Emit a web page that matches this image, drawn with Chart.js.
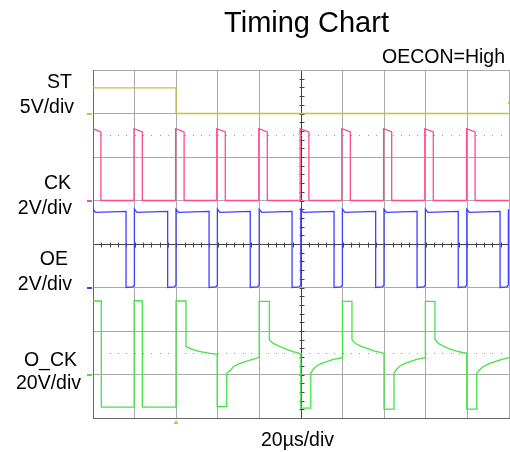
<!DOCTYPE html>
<html>
<head>
<meta charset="utf-8">
<script src="https://cdn.jsdelivr.net/npm/chart.js@4/dist/chart.umd.min.js"></script>
<style>
  html, body { margin: 0; padding: 0; background: #fff; }
</style>
</head>
<body>
<canvas id="timing" width="510" height="452"></canvas>
<script>
// ST: one step down at the trigger point
const stTime = [0, 39.9, 39.9, 200];
const stVolts = [2.95, 2.95, 0, 0];

// CK: short positive pulses every 20us (edges in us)
const ckRise = [0, 19.7, 39.7, 59.5, 79.7, 99.6, 119.6, 139.7, 159.5, 179.6];
const ckFall = [3.8, 23.7, 43.8, 63.6, 83.8, 103.8, 123.7, 143.6, 163.6, 183.7];
const ckTop = [3.3, 3.15]; // level at rise, level at fall

// OE: short low pulses right before each CK edge
const oeFall = [15.9, 35.9, 55.8, 75.6, 95.7, 115.9, 135.9, 155.8, 175.6, 195.7];
const oeRise = [19.9, 39.9, 59.8, 79.9, 99.9, 119.9, 139.9, 159.8, 179.7, 199.7];
const oeTop = [3.6, 3.45, 3.5]; // at rise, small dip, flat part

// O_CK output, read point by point
const oCkTime = [
  0, 4.0, 4.0, 19.8, 19.8, 23.7, 23.7, 39.9,
  39.9, 44.7, 44.7, 46.6, 49.9, 53.0, 56.3, 59.7,
  59.7, 64.3, 64.3, 66.3, 67.5, 70.7, 73.9, 77.1, 79.9,
  79.9, 84.8, 84.8, 86.7, 89.9, 93.1, 96.3, 99.9,
  99.9, 104.7, 104.7, 105.9, 107.5, 109.9, 112.4, 115.5, 119.9,
  119.9, 124.5, 124.5, 125.3, 126.9, 129.3, 131.7, 134.9, 138.1, 139.9,
  139.9, 144.7, 144.7, 145.2, 146.0, 147.6, 150.0, 152.4, 155.6, 159.8,
  159.8, 164.4, 164.4, 166.0, 168.4, 171.6, 174.9, 178.1, 179.7,
  179.7, 184.5, 184.5, 185.9, 187.5, 190.7, 193.9, 197.1, 200
];
const oCkVolts = [
  33.8, 33.8, -15.0, -15.0, 34.0, 33.8, -15.0, -15.0,
  33.8, 33.8, 12.8, 12.0, 10.9, 10.3, 9.7, 9.3,
  -14.8, -14.8, 0.6, 2.1, 3.6, 5.1, 6.2, 7.1, 7.9,
  33.6, 33.6, 15.9, 14.3, 12.8, 11.6, 10.5, 9.5,
  -15.5, -15.5, 0.6, 2.4, 3.9, 5.1, 5.9, 7.0, 7.7,
  33.6, 33.6, 16.2, 15.1, 13.9, 12.8, 12.0, 10.9, 10.2, 9.7,
  -15.9, -15.9, 0.6, 1.3, 2.4, 3.9, 5.1, 5.9, 7.0, 7.7,
  33.6, 33.6, 16.2, 14.3, 13.1, 11.7, 10.8, 10.0, 9.7,
  -15.9, -15.9, 0.6, 2.1, 3.6, 5.1, 6.2, 7.1, 7.8
];

const channelNames = ['ST', 'CK', 'OE', 'O_CK'];
const voltsPerDiv = [5, 2, 2, 20];
const groundDiv = [7, 5, 3, 1];
const traceColors = ['#c8c238', '#ff4a8e', '#3f3fff', '#44e444'];

function ckVolts() {
  const t = [], v = [];
  ckRise.forEach((r, i) => {
    if (i > 0) { t.push(r); v.push(0); }
    t.push(r, ckFall[i], ckFall[i]);
    v.push(ckTop[0], ckTop[1], 0);
  });
  t.push(200); v.push(0);
  return [t, v];
}

function oeVolts() {
  const t = [0, 1.2], v = [oeTop[0], oeTop[1]];
  oeFall.forEach((f, i) => {
    t.push(f, f, oeRise[i] - 0.8, oeRise[i], oeRise[i]);
    v.push(oeTop[2], 0, 0.03, 0.12, oeTop[0]);
    if (oeRise[i] + 1.2 < 200) { t.push(oeRise[i] + 1.2); v.push(oeTop[1]); }
  });
  return [t, v];
}

const [ckT, ckV] = ckVolts();
const [oeT, oeV] = oeVolts();
const traces = [[stTime, stVolts], [ckT, ckV], [oeT, oeV], [oCkTime, oCkVolts]];

const datasets = traces.map(([t, v], ch) => ({
  label: channelNames[ch],
  data: t.map((x, i) => ({ x: x, y: groundDiv[ch] + v[i] / voltsPerDiv[ch] })),
  borderColor: traceColors[ch],
  borderWidth: 1.3,
  pointRadius: 0,
  tension: 0,
  fill: false
}));

const FONT = '"Liberation Sans", Arial, sans-serif';

const scopeDecor = {
  id: 'scopeDecor',
  beforeDatasetsDraw(chart) {
    const { ctx, chartArea: a, scales: { x, y } } = chart;
    ctx.save();
    // dotted half-division lines
    ctx.fillStyle = '#999';
    [6.5, 1.5].forEach(d => {
      const py = Math.round(y.getPixelForValue(d));
      for (let t = 4; t < 200; t += 4) {
        ctx.fillRect(Math.round(x.getPixelForValue(t)), py, 1, 1);
      }
    });
    // small ticks on the centre cross
    const cx = Math.round(x.getPixelForValue(100)) + 0.5;
    const cy = Math.round(y.getPixelForValue(4)) + 0.5;
    ctx.strokeStyle = '#444';
    ctx.lineWidth = 1;
    ctx.beginPath();
    for (let k = 1; k < 40; k++) {
      const py = Math.round(y.getPixelForValue(k / 5)) + 0.5;
      ctx.moveTo(cx - 2, py); ctx.lineTo(cx + 3, py);
    }
    for (let k = 1; k < 50; k++) {
      const px = Math.round(x.getPixelForValue(k * 4)) + 0.5;
      ctx.moveTo(px, cy - 2); ctx.lineTo(px, cy + 3);
    }
    ctx.stroke();
    ctx.restore();
  },
  afterDraw(chart) {
    const { ctx, chartArea: a, scales: { x, y } } = chart;
    ctx.save();
    // ground markers at the left edge
    groundDiv.forEach((g, ch) => {
      const py = Math.round(y.getPixelForValue(g));
      ctx.fillStyle = traceColors[ch];
      ctx.fillRect(a.left - 6, py - 1, 5, 2);
    });
    // trigger level and trigger position
    ctx.fillStyle = traceColors[0];
    ctx.fillRect(a.right - 1, Math.round(y.getPixelForValue(7.24)) - 1, 2, 2);
    const tx = x.getPixelForValue(stTime[1]);
    ctx.beginPath();
    ctx.moveTo(tx, a.bottom + 2);
    ctx.lineTo(tx + 2.5, a.bottom + 6);
    ctx.lineTo(tx - 2.5, a.bottom + 6);
    ctx.closePath();
    ctx.fill();

    ctx.fillStyle = '#000';
    ctx.textBaseline = 'alphabetic';
    ctx.font = '29px ' + FONT;
    ctx.textAlign = 'center';
    ctx.fillText('Timing Chart', 306.5, 32);
    ctx.font = '19.5px ' + FONT;
    ctx.fillText('20\u00b5s/div', 297.5, 445.5);
    ctx.textAlign = 'right';
    ctx.fillText('OECON=High', 505, 63);

    const nameRight = [72, 71, 68, 77];
    const nameBase = [88, 189, 265, 366];
    const scaleRight = [74, 72, 72, 81];
    const scaleBase = [113, 214, 290, 389];
    channelNames.forEach((n, ch) => {
      ctx.fillText(n, nameRight[ch], nameBase[ch]);
      ctx.fillText(voltsPerDiv[ch] + 'V/div', scaleRight[ch], scaleBase[ch]);
    });
    ctx.restore();
  }
};

new Chart(document.getElementById('timing').getContext('2d'), {
  type: 'line',
  data: { datasets: datasets },
  options: {
    responsive: false,
    animation: false,
    events: [],
    layout: { padding: { left: 93, top: 70, right: 1, bottom: 34 } },
    plugins: { legend: { display: false }, tooltip: { enabled: false } },
    scales: {
      x: {
        type: 'linear',
        min: 0,
        max: 200,
        ticks: { display: false, stepSize: 20 },
        grid: {
          drawTicks: false,
          color: ctx => ctx.tick && ctx.tick.value === 100 ? '#444' : '#aaa'
        },
        border: { color: '#666' }
      },
      y: {
        type: 'linear',
        min: 0,
        max: 8,
        ticks: { display: false, stepSize: 1 },
        grid: {
          drawTicks: false,
          color: ctx => ctx.tick && ctx.tick.value === 4 ? '#444' : '#aaa'
        },
        border: { color: '#666' }
      }
    }
  },
  plugins: [scopeDecor]
});
</script>
</body>
</html>
